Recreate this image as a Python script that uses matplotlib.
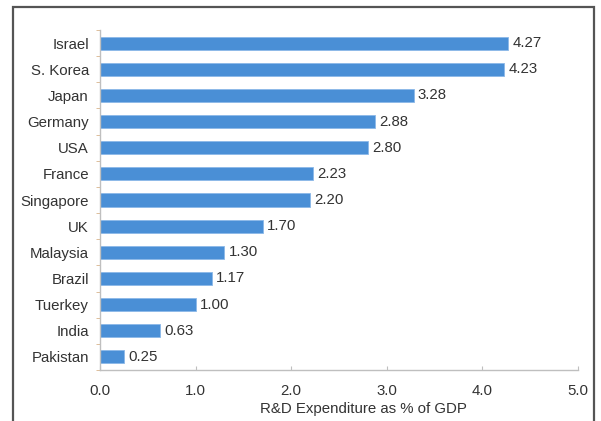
import matplotlib.pyplot as plt
from matplotlib.patches import Rectangle
import numpy as np

plt.rcParams['font.family'] = ['Liberation Sans', 'DejaVu Sans']

countries = ['Israel', 'S. Korea', 'Japan', 'Germany', 'USA', 'France', 'Singapore',
             'UK', 'Malaysia', 'Brazil', 'Tuerkey', 'India', 'Pakistan']
rd_share = [4.27, 4.23, 3.28, 2.88, 2.80, 2.23, 2.20, 1.70, 1.30, 1.17, 1.00, 0.63, 0.25]
x_ticks = [0.0, 1.0, 2.0, 3.0, 4.0, 5.0]

bar_color = '#4a8fd6'
axis_color = '#bfbfbf'
text_color = '#333333'
fs = 10.8

fig = plt.figure(figsize=(6.01, 4.21), dpi=100)
ax = fig.add_axes([0.1664, 0.1211, 0.7953, 0.8076])

y = np.arange(len(countries))
bars = ax.barh(y, rd_share, height=0.5, color=bar_color, edgecolor='#8bb8e8', linewidth=0.6)
ax.bar_label(bars, labels=[f'{v:.2f}' for v in rd_share], padding=3, fontsize=fs, color=text_color)

ax.set_ylim(len(countries) - 0.5, -0.5)
ax.set_xlim(0, 5.0)
ax.set_yticks(y, countries, fontsize=fs, color=text_color)
ax.set_yticks(np.arange(len(countries) + 1) - 0.5, minor=True)
ax.set_xticks(x_ticks, [f'{t:.1f}' for t in x_ticks], fontsize=fs, color=text_color)
ax.tick_params(axis='y', which='major', length=0, pad=8)
ax.tick_params(axis='y', which='minor', length=3, color='#d8b48c', direction='out')
ax.tick_params(axis='x', length=3, color=axis_color, direction='in', pad=10)

for side in ['top', 'right']:
    ax.spines[side].set_visible(False)
for side in ['left', 'bottom']:
    ax.spines[side].set_color(axis_color)
    ax.spines[side].set_linewidth(1.0)

ax.set_xlabel('R&D Expenditure as % of GDP', fontsize=fs, color=text_color, labelpad=4)
ax.xaxis.set_label_coords(0.552, -0.095)

# frame around the whole chart
fig.patches.append(Rectangle((13 / 601, -0.05), (594 - 13) / 601, 1.05 - 7 / 421,
                             transform=fig.transFigure, fill=False,
                             edgecolor='#555555', linewidth=1.6))

fig.savefig('out.png', dpi=100)
